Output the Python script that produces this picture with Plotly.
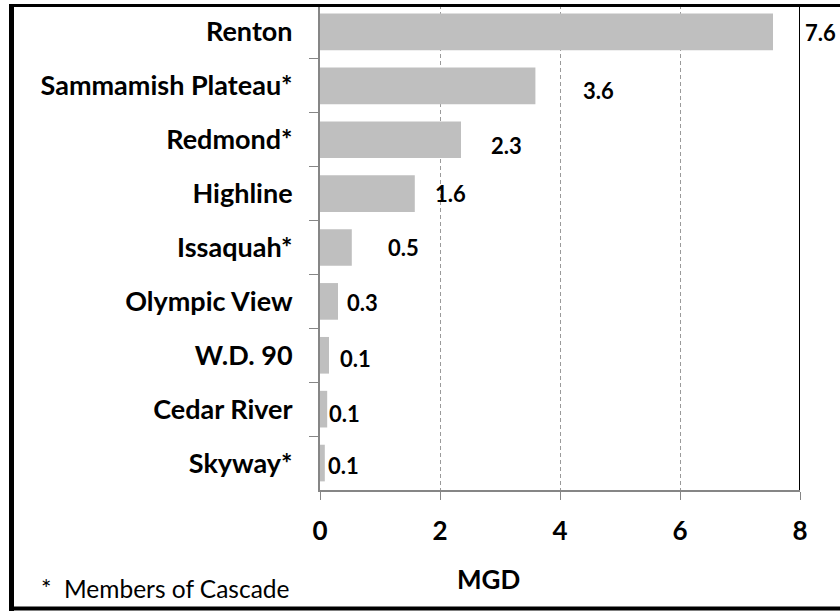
import plotly.graph_objects as go

# ---- data ----
categories = ["Renton", "Sammamish Plateau*", "Redmond*", "Highline", "Issaquah*",
              "Olympic View", "W.D. 90", "Cedar River", "Skyway*"]
values = [7.55, 3.59, 2.35, 1.58, 0.53, 0.30, 0.15, 0.12, 0.08]
value_labels = ["7.6", "3.6", "2.3", "1.6", "0.5", "0.3", "0.1", "0.1", "0.1"]
x_ticks = [0, 2, 4, 6, 8]
x_tick_labels = ["0", "2", "4", "6", "8"]

# label placement tweaks (pixels)
label_dx_px = [30, 46, 28, 18, 34, 7, 9, 0, 1]
label_dy_px = [-1, -5, -6, 0, 0, -1, -3, -4, -2]

W, H = 840, 611
L, R, T, B = 320, 40, 5, 121
PW, PH = W - L - R, H - T - B

def px(x):
    return (x - L) / PW

def py(y):
    return (H - B - y) / PH

FONT = "Lato"
AX = "#868686"

fig = go.Figure(go.Bar(
    y=categories, x=values, orientation="h",
    marker=dict(color="#BFBFBF", line=dict(width=0)),
    width=0.68, hoverinfo="skip",
))

fig.update_layout(
    width=W, height=H,
    margin=dict(l=L, r=R, t=T, b=B, pad=0),
    paper_bgcolor="white", plot_bgcolor="white",
    showlegend=False,
    font=dict(family=FONT, color="black"),
    xaxis=dict(
        range=[0, 8], tickvals=x_ticks, ticktext=x_tick_labels,
        showline=True, linecolor=AX, linewidth=2,
        ticks="outside", ticklen=8, tickcolor=AX, tickwidth=1,
        showgrid=True, gridcolor="#9a9a9a", gridwidth=1, griddash="4px,3px",
        zeroline=False,
        tickfont=dict(family=FONT, size=26, weight="bold", color="black"),
        ticklabelstandoff=9,
        fixedrange=True,
    ),
    yaxis=dict(
        type="category", autorange="reversed",
        showline=True, linecolor=AX, linewidth=2,
        ticks="outside", tickson="boundaries", ticklen=9, tickcolor=AX, tickwidth=1,
        showgrid=False, zeroline=False,
        tickfont=dict(family=FONT, size=27, weight="bold", color="black"),
        ticklabelstandoff=20,
        fixedrange=True,
    ),
)

annotations = []
for c, v, t, dx, dy in zip(categories, values, value_labels, label_dx_px, label_dy_px):
    annotations.append(dict(
        x=v, y=c, xref="x", yref="y", text=t, showarrow=False,
        xanchor="left", yanchor="middle", xshift=dx, yshift=dy,
        font=dict(family=FONT, size=22, weight="bold", color="black"),
    ))

annotations.append(dict(
    x=px(488), y=py(579), xref="paper", yref="paper", text="MGD", showarrow=False,
    xanchor="center", yanchor="middle",
    font=dict(family=FONT, size=26, weight="bold", color="black"),
))
annotations.append(dict(
    x=px(39), y=py(588), xref="paper", yref="paper", text="*  Members of Cascade",
    showarrow=False, xanchor="left", yanchor="middle",
    font=dict(family=FONT, size=24.5, color="black"),
))
fig.update_layout(annotations=annotations)

shapes = [
    # right plot edge line at x = 8
    dict(type="line", xref="x", yref="paper", x0=8, x1=8, y0=0, y1=py(4),
         line=dict(color="black", width=2)),
    # outer border: left, top, bottom
    dict(type="line", xref="paper", yref="paper", x0=px(11.5), x1=px(11.5), y0=py(4), y1=py(611),
         line=dict(color="black", width=5)),
    dict(type="line", xref="paper", yref="paper", x0=px(9), x1=px(840), y0=py(5.5), y1=py(5.5),
         line=dict(color="black", width=3)),
    dict(type="line", xref="paper", yref="paper", x0=px(9), x1=px(840), y0=py(608.5), y1=py(608.5),
         line=dict(color="black", width=4)),
]
fig.update_layout(shapes=shapes)

fig.write_html(
    "out.html",
    config=dict(displayModeBar=False),
    post_script="document.body.style.margin='0px';document.body.style.overflow='hidden';",
)
